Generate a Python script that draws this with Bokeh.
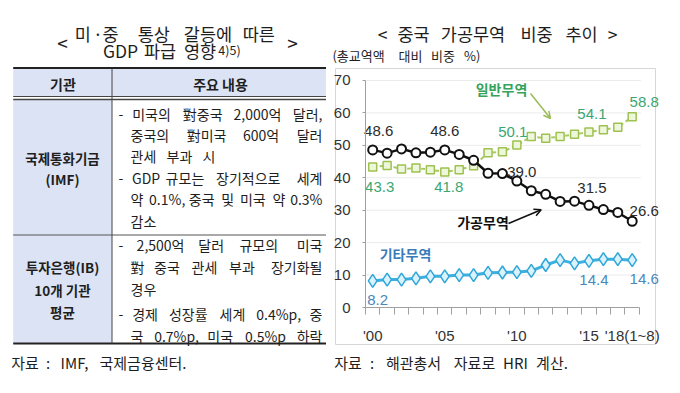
from bokeh.plotting import figure
from bokeh.layouts import row
from bokeh.models import ColumnDataSource, Range1d, Label, Arrow, OpenHead, FixedTicker, LinearAxis
from bokeh.core.properties import value
from bokeh.embed import file_html
from bokeh.resources import INLINE

# ---------------- data ----------------
years = list(range(2000, 2019))
processing = [48.6, 47.6, 48.9, 47.7, 47.9, 48.6, 47.2, 45.4, 41.4, 41.3, 39.0,
              36.0, 34.9, 32.7, 32.8, 31.5, 30.2, 29.3, 26.6]   # 가공무역
general = [43.3, 43.8, 42.7, 43.0, 42.5, 41.8, 42.5, 43.7, 47.7, 48.0, 50.1,
           52.7, 52.2, 52.7, 53.4, 54.1, 54.8, 55.6, 58.8]      # 일반무역
other = [8.2, 8.6, 8.6, 9.0, 9.6, 9.6, 10.0, 10.0, 10.7, 10.8, 10.9,
         11.3, 13.1, 14.6, 13.6, 14.4, 14.9, 14.9, 14.6]        # 기타무역
series_names = ["가공무역", "일반무역", "기타무역"]
x_tick_years = [2000, 2005, 2010, 2015, 2018]
x_tick_labels = ["'00", "'05", "'10", "'15", "'18(1~8)"]
y_ticks = [0, 10, 20, 30, 40, 50, 60, 70]
label_years_processing = [2000, 2005, 2010, 2015, 2018]
label_years_general = [2000, 2005, 2010, 2015, 2018]
label_years_other = [2000, 2015, 2018]

chart_title = "< 중국 가공무역 비중 추이 >"
chart_subtitle = "(총교역액 대비 비중 %)"
chart_source = "자료 : 해관총서 자료로 HRI 계산."

table_title = ["< 미 · 중 통상 갈등에 따른 >", "GDP 파급 영향 4)5)"]
table_header = ["기관", "주요 내용"]
institutions = [["국제통화기금", "(IMF)"], ["투자은행(IB)", "10개 기관", "평균"]]
contents = [
    ["- 미국의 對중국 2,000억 달러,", "중국의 對미국 600억 달러", "관세 부과 시",
     "- GDP 규모는 장기적으로 세계", "약 0.1%, 중국 및 미국 약 0.3%", "감소"],
    ["- 2,500억 달러 규모의 미국", "對 중국 관세 부과 장기화될", "경우",
     "- 경제 성장률 세계 0.4%p, 중", "국 0.7%p, 미국 0.5%p 하락"],
]
table_source = "자료 : IMF, 국제금융센터."

KR = "Noto Sans CJK KR"
NUM = "Liberation Sans Narrow, Liberation Sans, sans-serif"

W, H, SPLIT = 680, 393, 326

# ---------------- left: table ----------------
t = figure(width=SPLIT, height=H, x_range=Range1d(0, SPLIT), y_range=Range1d(H, 0),
           min_border=0, x_axis_location=None, y_axis_location=None,
           outline_line_color=None, output_backend="svg", toolbar_location=None)
t.grid.visible = False

TL, TR, TC = 12.7, 329.5, 111.5
shade = "#dce3f4"
t.quad(left=[TL], right=[TR], top=[68], bottom=[96], fill_color=shade, line_color=None)
t.quad(left=[TL], right=[TC], top=[99], bottom=[343], fill_color=shade, line_color=None)
t.segment(x0=[TL, TL, TL, TL, TL], x1=[TR, TR, TR, TR, TR],
          y0=[67.5, 96, 99, 234.5, 343], y1=[67.5, 96, 99, 234.5, 343],
          line_color=["#222", "#444", "#444", "#555", "#222"],
          line_width=[2, 1, 1.5, 1, 2])
t.segment(x0=[TC], x1=[TC], y0=[68], y1=[343], line_color="#444", line_width=1)

tf = dict(text_font=value(KR), text_color="#1e1e1e", text_baseline="middle")


def place_words(fig, words, centers, y, size, conv_x=None, conv_y=None, **kw):
    xs = [conv_x(v) for v in centers] if conv_x else list(centers)
    yv = conv_y(y) if conv_y else y
    fig.text(x=xs, y=[yv] * len(words), text=words, text_align="center",
             text_font_size=f"{size}px", **tf, **kw)


# left title: "<" and ">" sit between the two lines
t1 = table_title[0].split(" ")
place_words(t, [t1[0], t1[-1]], [62, 292], 42, 19)
place_words(t, t1[1:-1], [82.3, 97.5, 110, 153.3, 207.5, 258.3], 33, 17.5)
t2 = table_title[1].split(" ")
place_words(t, t2[:3], [120, 159.5, 199.5], 50, 17.5)
place_words(t, [t2[3]], [229], 49, 12.5)

t.text(x=[62.5, 220], y=[83, 83], text=table_header, text_align="center",
       text_font_size="14px", text_font_style="bold", **tf)
inst_y = [[157, 178], [266.5, 289, 311]]
for names, ys in zip(institutions, inst_y):
    t.text(x=[62] * len(names), y=ys, text=names, text_align="center",
           text_font_size="13.5px", text_font_style="bold", **tf)


def est_width(s, fs):
    w = 0.0
    for ch in s:
        o = ord(ch)
        if 0xAC00 <= o <= 0xD7A3 or 0x4E00 <= o <= 0x9FFF:
            w += 1.0
        elif ch.isdigit():
            w += 0.554
        elif ch in ",.":
            w += 0.26
        elif ch == "%":
            w += 0.88
        elif ch == "-":
            w += 0.36
        elif ch in "()":
            w += 0.32
        else:
            w += 0.6
    return w * fs


FS = 14
content_y = [[113, 134.5, 155.5, 177, 198.5, 220], [244, 266, 288, 313, 335]]
last_lines = {"관세 부과 시", "감소", "경우"}
lx, ly, lt, rx, ry, rt = [], [], [], [], [], []
for lines, ys in zip(contents, content_y):
    for line, yy in zip(lines, ys):
        left = 118 if line.startswith("-") else 130
        words = line.split(" ")
        if line in last_lines or len(words) == 1:
            if line == "관세 부과 시":
                xcur = left
                for w in words:
                    lx.append(xcur); ly.append(yy); lt.append(w)
                    xcur += est_width(w, FS) + 8
            else:
                lx.append(left); ly.append(yy); lt.append(line)
            continue
        widths = [est_width(w, FS) for w in words]
        gap = (322 - left - sum(widths)) / (len(words) - 1)
        xcur = left
        for i, w in enumerate(words):
            if i == len(words) - 1:
                rx.append(322); ry.append(yy); rt.append(w)
            else:
                lx.append(xcur); ly.append(yy); lt.append(w)
            xcur += widths[i] + gap
t.text(x=lx, y=ly, text=lt, text_align="left", text_font_size=f"{FS}px", **tf)
t.text(x=rx, y=ry, text=rt, text_align="right", text_font_size=f"{FS}px", **tf)
place_words(t, table_source.split(" "), [24.5, 47.5, 74, 142.5], 362, 15)

# ---------------- right: chart ----------------
# page-pixel layout: year 2000 at px 372.2, value 0 at px 307
PPY, PPU, X2000, Y0 = 14.417, 3.243, 372.2, 307.0


def px_to_x(px):
    return 2000 + (px - X2000) / PPY


def px_to_y(py):
    return (Y0 - py) / PPU


c = figure(width=W - SPLIT, height=H,
           x_range=Range1d(px_to_x(SPLIT), px_to_x(W)),
           y_range=Range1d(px_to_y(H), px_to_y(0)),
           min_border=0, x_axis_location=None, y_axis_location=None,
           outline_line_color=None, output_backend="svg", toolbar_location=None)
c.grid.visible = False

# grey box around the chart
c.quad(left=[px_to_x(335)], right=[px_to_x(655)], top=[px_to_y(68)], bottom=[px_to_y(344)],
       fill_color=None, line_color="#d6d6d6", line_width=1)

x_lo, x_hi = years[0] - 0.5, years[-1] + 0.5

# horizontal grid lines
c.segment(x0=[x_lo] * (len(y_ticks) - 1), x1=[x_hi + 0.1] * (len(y_ticks) - 1),
          y0=y_ticks[1:], y1=y_ticks[1:], line_color="#ebebeb", line_width=1)

yaxis = LinearAxis(fixed_location=x_lo, bounds=(0, 70),
                   ticker=FixedTicker(ticks=y_ticks, minor_ticks=[]),
                   axis_line_color="#a0a0a0", major_tick_line_color="#a0a0a0",
                   major_tick_out=3, major_tick_in=0, minor_tick_out=0,
                   major_label_standoff=12,
                   major_label_text_font=NUM,
                   major_label_text_font_size="15px", major_label_text_color="#333")
c.add_layout(yaxis, "left")

xaxis = LinearAxis(fixed_location=0, bounds=(x_lo, x_hi),
                   ticker=FixedTicker(ticks=x_tick_years,
                                      minor_ticks=[y - 0.5 for y in years] + [x_hi]),
                   major_label_overrides=dict(zip(x_tick_years, x_tick_labels)),
                   axis_line_color="#a0a0a0", major_tick_out=0, major_tick_in=0,
                   minor_tick_out=7, minor_tick_in=0, minor_tick_line_color="#a0a0a0",
                   major_label_standoff=12,
                   major_label_text_font=NUM,
                   major_label_text_font_size="15px", major_label_text_color="#333")
c.add_layout(xaxis, "below")

src = ColumnDataSource(dict(year=years, processing=processing, general=general, other=other))

# 기타무역
c.line("year", "other", source=src, line_color="#3cb0df", line_width=3)
c.scatter("year", "other", source=src, marker="diamond", size=13,
          fill_color="#d9f2fb", line_color="#2fa6da", line_width=1.5)
# 일반무역
c.line("year", "general", source=src, line_color="#a9ca60", line_width=2, line_dash="4 3")
c.scatter("year", "general", source=src, marker="square", size=8,
          fill_color="#eef6dc", line_color="#9dc24f", line_width=1.5)
# 가공무역
c.line("year", "processing", source=src, line_color="#111111", line_width=2.5)
c.scatter("year", "processing", source=src, marker="circle", size=9,
          fill_color="white", line_color="#111111", line_width=2)


def add_value_labels(label_years, vals, dx, dy, color):
    yy = [vals[years.index(y)] for y in label_years]
    s = ColumnDataSource(dict(x=label_years, y=yy, t=[f"{v:.1f}" for v in yy], dx=dx, dy=dy))
    c.text("x", "y", text="t", source=s, x_offset="dx", y_offset="dy",
           text_align="center", text_baseline="middle", text_color=color,
           text_font=value(NUM), text_font_size="15px")


add_value_labels(label_years_processing, processing, [6, 0, 5, 3, 12], [-19, -19, -9, -17, -10], "#2b2b2b")
add_value_labels(label_years_general, general, [7, 4, -4, 3, 12], [20, 15, -13, -18, -15], "#3aa673")
add_value_labels(label_years_other, other, [5, 5, 12], [19, 19, 19], "#4a88bb")

# series names and arrows
name_style = dict(text_font=KR, text_font_size="14px", text_font_style="bold",
                  text_align="center", text_baseline="middle")
c.add_layout(Label(x=px_to_x(501), y=px_to_y(88), text=series_names[1], text_color="#35a35c", **name_style))
c.add_layout(Label(x=px_to_x(482.5), y=px_to_y(221.7), text=series_names[0], text_color="#111111", **name_style))
c.add_layout(Label(x=px_to_x(405), y=px_to_y(253), text=series_names[2], text_color="#3a7cba", **name_style))
c.add_layout(Arrow(end=OpenHead(size=7, line_color="#9bbb59", line_width=1.5),
                   x_start=px_to_x(530), y_start=px_to_y(93), x_end=px_to_x(550), y_end=px_to_y(118),
                   line_color="#9bbb59", line_width=1.5))
c.add_layout(Arrow(end=OpenHead(size=7, line_color="#111111", line_width=1.5),
                   x_start=px_to_x(508), y_start=px_to_y(223), x_end=px_to_x(540.7), y_end=px_to_y(209.3),
                   line_color="#111111", line_width=1.5))

# titles and source (words placed at the reference's spacing)
place_words(c, chart_title.split(" "), [382, 413, 472.5, 536, 581, 612], 33, 17.5,
            conv_x=px_to_x, conv_y=px_to_y)
place_words(c, chart_subtitle.split(" "), [358, 410, 442.5, 471.7], 55, 13,
            conv_x=px_to_x, conv_y=px_to_y)
place_words(c, chart_source.split(" "), [347.5, 371.5, 413, 474, 515, 551.5], 362, 15,
            conv_x=px_to_x, conv_y=px_to_y)

layout = row(t, c)
open("out.html", "w").write(file_html(layout, INLINE))
